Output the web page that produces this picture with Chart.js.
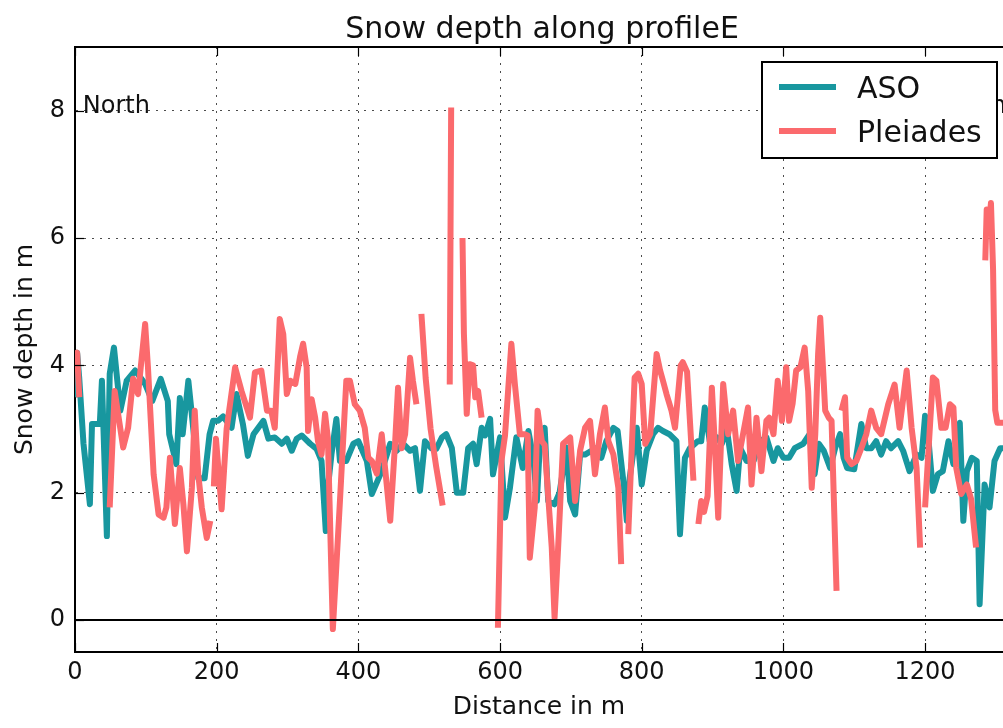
<!DOCTYPE html>
<html>
<head>
<meta charset="utf-8">
<script src="https://cdn.jsdelivr.net/npm/chart.js@4.4.1/dist/chart.umd.min.js"></script>
<style>
html,body{margin:0;padding:0;background:#fff;overflow:hidden;}
#wrap{width:1003px;height:728px;}
</style>
</head>
<body>
<div id="wrap"><canvas id="c" width="1003" height="728"></canvas></div>
<script>
const titleText = 'Snow depth along profileE';
const xLabel = 'Distance in m';
const yLabel = 'Snow depth in m';
const seriesNames = ['ASO', 'Pleiades'];
const xTicks = [0, 200, 400, 600, 800, 1000, 1200];
const yTicks = [0, 2, 4, 6, 8];

const asoDist = [0,3,6,12,21,24,35,38,45,49,
55,64,73,85,99,109,121,131,133,143,
148,152,160,164,174,183,190,195,202,209,
221,228,237,244,252,266,273,282,292,299,
306,313,320,332,341,348,354,357,362,369,
374,383,393,400,412,419,426,433,445,454,
463,473,480,487,494,503,510,518,524,532,
539,548,555,562,567,574,579,586,590,600,
607,614,623,632,640,647,652,656,663,668,
677,684,694,699,706,713,720,729,736,743,
750,760,766,774,779,783,793,800,807,816,
823,830,839,849,854,861,868,879,884,889,
896,906,913,920,927,934,939,948,958,967,
976,986,992,1000,1008,1016,1028,1040,1044,1050,
1057,1066,1073,1080,1085,1090,1100,1110,1117,1124,
1131,1138,1145,1152,1162,1169,1178,1188,1195,1200,
1205,1211,1218,1225,1233,1240,1249,1254,1259,1266,
1273,1277,1284,1291,1298,1306,1312];
const asoDepth = [3.5,4.2,3.8,2.77,1.82,3.08,3.08,3.76,1.32,3.87,
4.28,3.29,3.76,3.92,3.71,3.44,3.79,3.44,2.92,2.45,
3.49,2.92,3.76,3.33,2.23,2.23,2.92,3.13,3.13,3.2,
3.02,3.55,3.08,2.58,2.92,3.13,2.85,2.87,2.77,2.85,
2.66,2.85,2.9,2.77,2.69,2.5,1.4,2.08,2.6,3.16,
2.5,2.5,2.77,2.81,2.5,1.98,2.16,2.34,2.77,2.66,
2.77,2.66,2.7,2.03,2.81,2.7,2.69,2.87,2.92,2.7,
2.0,2.0,2.7,2.77,2.45,3.02,2.9,3.16,2.29,2.87,
1.61,2.08,2.87,2.39,2.97,2.55,1.87,2.7,3.02,1.87,
1.82,2.0,2.71,1.87,1.66,2.6,2.6,2.66,2.7,2.55,
2.81,3.02,2.97,2.19,1.56,2.23,3.02,2.13,2.66,2.92,
3.02,2.97,2.92,2.81,1.35,2.55,2.7,2.81,2.81,3.34,
2.81,2.87,2.77,3.02,2.45,2.03,2.7,2.5,2.5,2.81,
2.87,2.5,2.7,2.55,2.55,2.7,2.77,2.97,2.29,2.77,
2.66,2.39,2.7,2.92,2.55,2.39,2.37,3.08,2.7,2.7,
2.81,2.6,2.81,2.7,2.81,2.66,2.34,2.6,2.55,3.21,
2.81,2.03,2.29,2.34,2.81,2.45,3.1,1.56,2.34,2.55,
2.5,0.25,2.13,1.77,2.5,2.7,2.7];

// null = no Pleiades data (gap in the profile)
const pleDist = [
0,3,6,10,
49,56,68,75,82,89,99,103,111,118,125,129,134,141,148,153,158,165,169,174,179,186,191,193,
196,199,207,214,226,235,247,254,263,271,277,282,289,294,299,304,311,318,322,327,329,334,339,343,348,353,357,364,374,383,388,395,402,409,414,419,426,433,440,445,452,456,461,466,473,477,482,485,
489,495,502,510,519,524,
529,531,538,
547,549,553,557,562,565,569,574,585,
597,602,607,616,621,628,635,639,642,649,653,659,663,673,677,682,689,699,706,713,720,727,734,741,748,753,760,767,771,776,
781,790,795,800,805,812,821,826,830,835,842,847,855,858,864,873,876,
880,884,888,893,899,903,908,915,922,929,936,943,950,955,962,969,976,980,986,992,998,1004,1008,1013,1018,1024,1030,1035,1040,1045,1049,1052,1056,1059,1064,1068,1075,1078,
1082,1087,1090,1096,1103,1110,1117,1124,1131,1138,1148,1157,1164,1174,1181,1188,1193,1196,
1200,1211,1216,1223,1229,1235,1240,1244,1251,1259,1265,1272,1278,
1285,1287,1290,1293,1296,1299,1302,1312];
const pleDepth = [
4.15,4.2,3.5,null,
1.77,3.6,2.71,3.02,3.79,3.55,4.65,3.97,2.29,1.66,1.61,1.77,2.55,1.51,2.39,1.82,1.08,2.08,3.29,2.29,1.77,1.29,1.56,null,
2.1,2.85,1.74,3.0,3.97,3.6,3.18,3.89,3.92,3.29,3.29,3.02,4.73,4.49,3.55,3.76,3.71,4.15,4.34,3.97,2.97,3.47,3.18,2.81,2.6,3.24,2.85,-0.14,1.87,3.76,3.76,3.39,3.29,3.02,2.55,2.5,2.3,2.92,2.13,1.56,2.81,3.65,2.7,2.92,4.12,3.76,3.39,null,
4.81,3.8,3.0,2.4,1.8,null,
3.7,8.05,null,
6.0,4.5,3.24,4.02,4.0,3.5,3.6,3.18,null,
-0.12,2.5,2.9,4.34,3.7,2.92,2.92,2.9,0.98,1.77,3.29,2.81,2.75,1.14,0.04,1.14,2.77,2.87,1.87,2.66,3.02,3.13,2.29,2.92,3.34,2.81,2.6,2.08,0.88,null,
1.35,3.81,3.87,3.71,2.77,2.92,4.18,3.92,3.76,3.55,3.29,3.02,4.0,4.05,3.9,2.19,null,
1.51,1.87,1.7,1.95,3.65,2.81,1.61,3.71,2.92,3.29,2.5,2.92,3.34,2.13,3.18,2.34,3.13,3.18,2.92,3.76,3.13,3.97,3.13,3.4,3.92,3.97,4.28,3.6,2.08,2.92,4.18,4.75,3.94,3.29,3.18,3.13,0.46,null,
3.29,3.5,2.55,2.45,2.5,2.7,2.92,3.29,3.02,2.92,3.39,3.7,3.02,3.92,3.02,2.39,1.14,null,
1.77,3.81,3.76,3.02,3.02,3.39,3.34,2.39,1.98,2.13,1.9,1.14,null,
5.65,6.45,6.2,6.55,5.5,3.3,3.1,3.1];

const ASO_COLOR = '#18979f';
const PLE_COLOR = '#fb6a6d';
const FONT = 'DejaVu Sans';
const TXT = '#111';

const asoData = asoDist.map((x, i) => ({x: x, y: asoDepth[i]}));
const pleData = pleDist.map((x, i) => ({x: x, y: pleDepth[i]}));

const deco = {
  id: 'deco',
  afterDatasetsDraw(chart) {
    const ctx = chart.ctx;
    const a = chart.chartArea;
    const xs = chart.scales.x, ys = chart.scales.y;
    ctx.save();
    ctx.strokeStyle = '#000';
    const y0 = Math.round(ys.getPixelForValue(0));
    ctx.lineWidth = 2;
    ctx.beginPath(); ctx.moveTo(a.left, y0); ctx.lineTo(a.right, y0); ctx.stroke();
    ctx.beginPath(); ctx.moveTo(a.left, a.top); ctx.lineTo(a.right, a.top); ctx.stroke();
    ctx.lineWidth = 1.2;
    xTicks.forEach(v => {
      const px = Math.round(xs.getPixelForValue(v)) + 0.5;
      ctx.beginPath(); ctx.moveTo(px, a.bottom); ctx.lineTo(px, a.bottom - 9); ctx.stroke();
      ctx.beginPath(); ctx.moveTo(px, a.top); ctx.lineTo(px, a.top + 9); ctx.stroke();
    });
    yTicks.forEach(v => {
      const py = Math.round(ys.getPixelForValue(v)) + 0.5;
      ctx.beginPath(); ctx.moveTo(a.left, py); ctx.lineTo(a.left + 9, py); ctx.stroke();
    });
    ctx.fillStyle = TXT;
    ctx.font = '24px "' + FONT + '"';
    ctx.textAlign = 'left';
    ctx.textBaseline = 'alphabetic';
    ctx.fillText('North', xs.getPixelForValue(11), ys.getPixelForValue(7.97));
    ctx.fillText('South', xs.getPixelForValue(1216), ys.getPixelForValue(7.97));
    ctx.font = '30px "' + FONT + '"';
    ctx.textAlign = 'center';
    ctx.fillText(titleText, 542, 38);
    ctx.fillStyle = '#fff';
    ctx.fillRect(762, 62, 235, 96);
    ctx.lineWidth = 2;
    ctx.strokeStyle = '#000';
    ctx.strokeRect(762, 62, 235, 96);
    const cols = [ASO_COLOR, PLE_COLOR];
    const ly = [87, 131];
    ctx.font = '30px "' + FONT + '"';
    ctx.textAlign = 'left';
    ctx.lineCap = 'butt';
    for (let i = 0; i < 2; i++) {
      ctx.strokeStyle = cols[i];
      ctx.lineWidth = 6;
      ctx.beginPath(); ctx.moveTo(779, ly[i]); ctx.lineTo(836, ly[i]); ctx.stroke();
      ctx.fillStyle = TXT;
      ctx.fillText(seriesNames[i], 857, ly[i] + 11);
    }
    ctx.restore();
  }
};

const tickFont = {family: FONT, size: 24};
const labelFont = {family: FONT, size: 25};

new Chart(document.getElementById('c'), {
  type: 'line',
  data: {
    datasets: [
      {label: seriesNames[0], data: asoData, borderColor: ASO_COLOR, backgroundColor: ASO_COLOR,
       borderWidth: 6, pointRadius: 0, tension: 0, spanGaps: false, order: 1,
       borderJoinStyle: 'round', borderCapStyle: 'butt', fill: false},
      {label: seriesNames[1], data: pleData, borderColor: PLE_COLOR, backgroundColor: PLE_COLOR,
       borderWidth: 6, pointRadius: 0, tension: 0, spanGaps: false, order: 0,
       borderJoinStyle: 'round', borderCapStyle: 'butt', fill: false}
    ]
  },
  options: {
    responsive: false,
    animation: false,
    devicePixelRatio: 1,
    layout: {padding: {top: 47, left: 0, right: 0, bottom: 0}},
    plugins: {legend: {display: false}, title: {display: false}, tooltip: {enabled: false}},
    scales: {
      x: {
        type: 'linear', position: 'bottom', min: 0, max: 1310,
        afterBuildTicks: s => { s.ticks = xTicks.map(v => ({value: v})); },
        afterFit: s => { s.height = 76; },
        grid: {color: 'rgba(0,0,0,0.7)', lineWidth: 1, drawTicks: false},
        border: {display: true, color: '#000', width: 2, dash: [2, 6]},
        ticks: {padding: 6, font: tickFont, color: TXT, maxRotation: 0, autoSkip: false,
                callback: v => String(v)},
        title: {display: true, text: xLabel, font: labelFont, color: TXT, padding: {top: 0, bottom: 6}}
      },
      y: {
        type: 'linear', position: 'left', min: -0.5, max: 9,
        afterBuildTicks: s => { s.ticks = yTicks.map(v => ({value: v})); },
        afterFit: s => { s.width = 75; },
        grid: {color: 'rgba(0,0,0,0.7)', lineWidth: 1, drawTicks: false},
        border: {display: true, color: '#000', width: 2, dash: [2, 6]},
        ticks: {padding: 10, font: tickFont, color: TXT, callback: v => String(v)},
        title: {display: true, text: yLabel, font: labelFont, color: TXT, padding: {top: 10, bottom: 0}}
      }
    }
  },
  plugins: [deco]
});
</script>
</body>
</html>
